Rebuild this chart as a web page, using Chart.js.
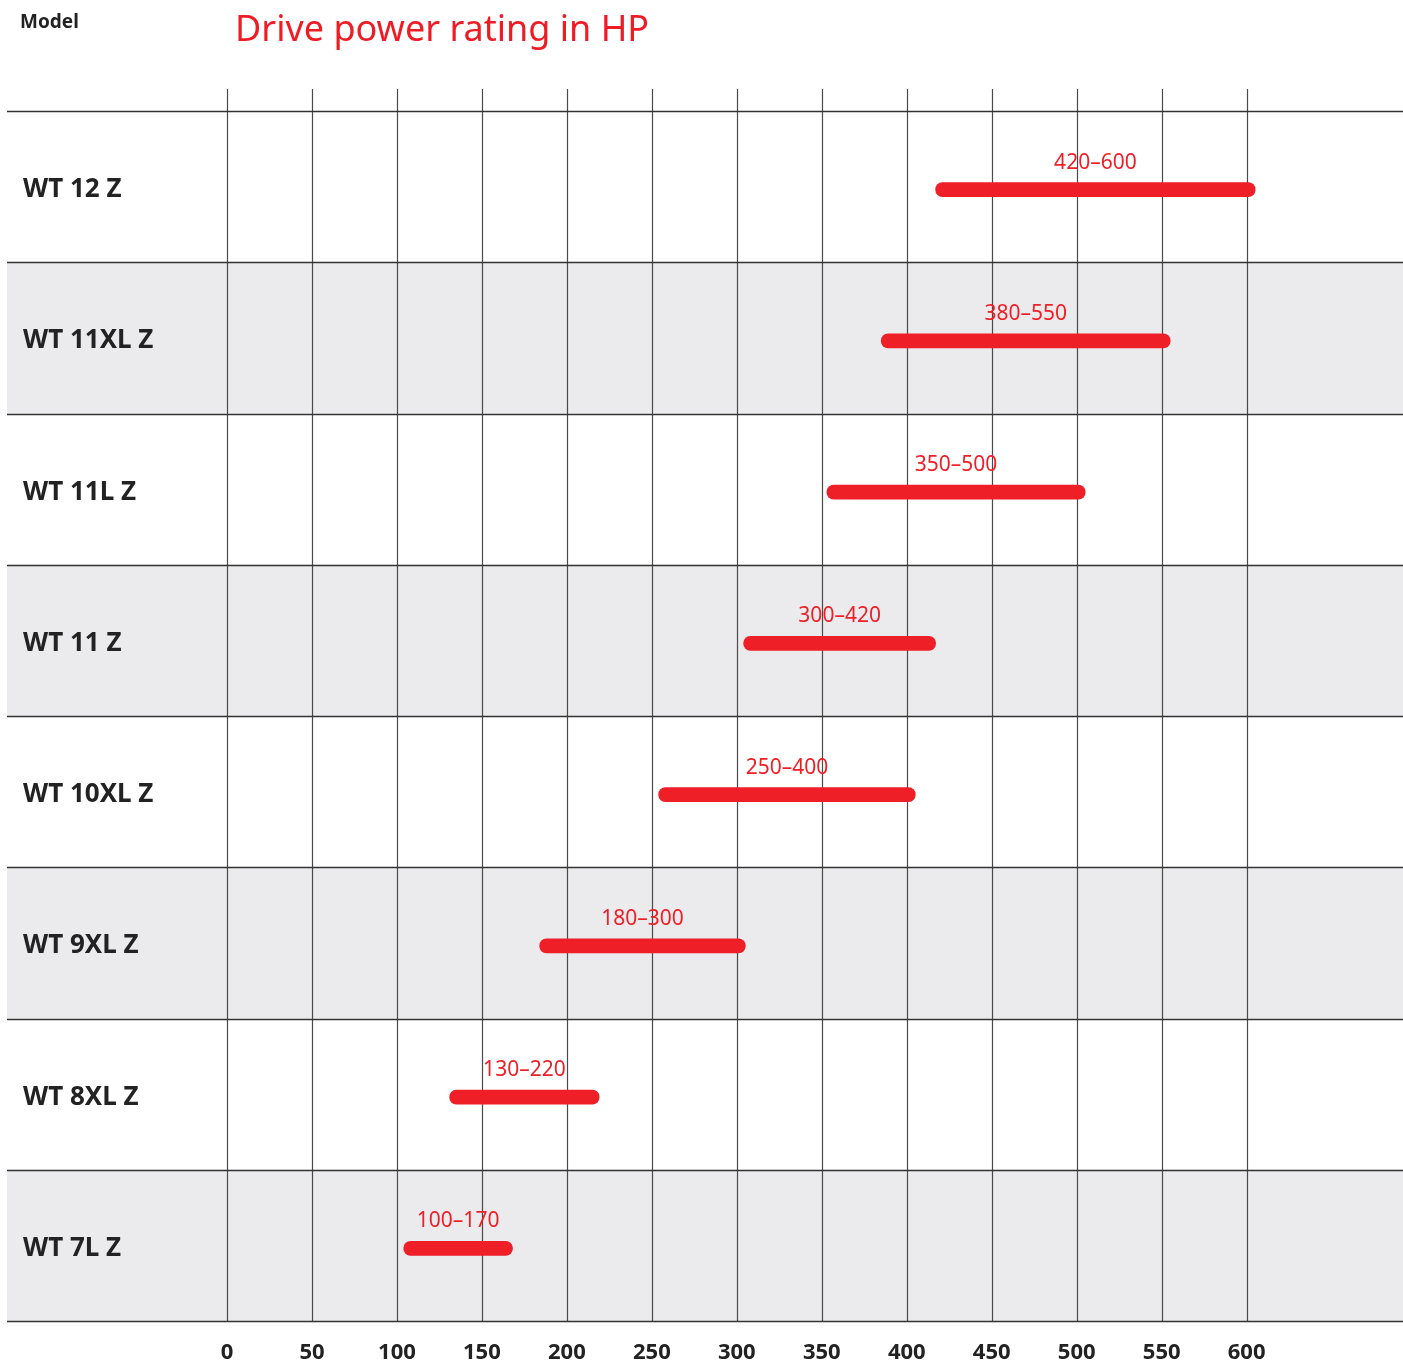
<!DOCTYPE html>
<html>
<head>
<meta charset="utf-8">
<script src="https://cdn.jsdelivr.net/npm/chart.js@4.4.0/dist/chart.umd.min.js"></script>
<style>
body { margin: 0; background: #fff; }
#wrap { position: relative; width: 1403px; height: 1362px; }
#model { position: absolute; left: 20px; top: 8px; font: bold 19px "Noto Sans"; color: #222; }
#title { position: absolute; left: 235px; top: 3px; font: 36px "Noto Sans"; color: #ee1c25; }
</style>
</head>
<body>
<div id="wrap">
  <canvas id="powerChart" width="1403" height="1362"></canvas>
  <div id="model">Model</div>
  <div id="title">Drive power rating in HP</div>
</div>
<script>
// models top to bottom
var models = ['WT 12 Z', 'WT 11XL Z', 'WT 11L Z', 'WT 11 Z', 'WT 10XL Z', 'WT 9XL Z', 'WT 8XL Z', 'WT 7L Z'];
// bar ends as drawn in the picture (HP)
var powerMin = [417, 385, 353, 304, 254, 184, 131, 104];
var powerMax = [605, 555, 505, 417, 405, 305, 219, 168];
// printed labels above each bar
var rangeLabels = ['420–600', '380–550', '350–500', '300–420', '250–400', '180–300', '130–220', '100–170'];
var xTicks = [0, 50, 100, 150, 200, 250, 300, 350, 400, 450, 500, 550, 600];

var red = '#ee1f27';
var rowShift = -3; // bars sit a little below the row middle in the original

var tablePlugin = {
    id: 'table',
    beforeDraw: function(chart) {
        var c = chart.ctx, a = chart.chartArea, x = chart.scales.x;
        var step = (a.bottom - a.top) / models.length;
        var top = a.top + rowShift, bottom = a.bottom + rowShift;
        c.save();
        c.fillStyle = '#fff';
        c.fillRect(0, 0, chart.width, chart.height);
        // shaded rows
        c.fillStyle = '#ebebed';
        for (var i = 0; i < models.length; i++) {
            if (i % 2 == 1) c.fillRect(7, top + i * step, chart.width - 7, step);
        }
        // vertical grid
        c.strokeStyle = '#4a4a4a';
        c.lineWidth = 1.2;
        xTicks.forEach(function(v) {
            var px = Math.round(x.getPixelForValue(v)) + 0.5;
            c.beginPath();
            c.moveTo(px, top - 22);
            c.lineTo(px, bottom);
            c.stroke();
        });
        // row lines
        c.strokeStyle = '#333';
        c.lineWidth = 1.4;
        for (var j = 0; j <= models.length; j++) {
            var py = Math.round(top + j * step) + 0.5;
            c.beginPath();
            c.moveTo(7, py);
            c.lineTo(chart.width, py);
            c.stroke();
        }
        c.restore();
    },
    afterDatasetsDraw: function(chart) {
        var c = chart.ctx;
        var meta = chart.getDatasetMeta(0);
        c.save();
        c.font = '21px "Noto Sans"';
        c.fillStyle = red;
        c.textAlign = 'center';
        c.textBaseline = 'middle';
        meta.data.forEach(function(bar, i) {
            c.fillText(rangeLabels[i], (bar.x + bar.base) / 2, bar.y - 27);
        });
        c.restore();
    }
};

var ctx = document.getElementById('powerChart').getContext('2d');
var powerChart = new Chart(ctx, {
    type: 'bar',
    data: {
        labels: models,
        datasets: [{
            data: models.map(function(m, i) { return [powerMin[i], powerMax[i]]; }),
            backgroundColor: red,
            barThickness: 14,
            borderRadius: 7,
            borderSkipped: false
        }]
    },
    options: {
        indexAxis: 'y',
        responsive: false,
        devicePixelRatio: 1,
        animation: false,
        layout: { padding: { left: 23, top: 114, right: 0, bottom: 0 } },
        plugins: { legend: { display: false }, tooltip: { enabled: false } },
        scales: {
            x: {
                min: 0,
                max: 692,
                position: 'bottom',
                grid: { display: false, drawTicks: false },
                border: { display: false },
                afterBuildTicks: function(s) { s.ticks = xTicks.map(function(v) { return { value: v }; }); },
                afterFit: function(s) { s.height = 38; },
                ticks: {
                    padding: 16,
                    maxRotation: 0,
                    autoSkip: false,
                    color: '#222',
                    font: { family: 'Noto Sans', size: 22, weight: 'bold' }
                }
            },
            y: {
                grid: { display: false, drawTicks: false },
                border: { display: false },
                afterFit: function(s) { s.width = 204; },
                ticks: {
                    crossAlign: 'far',
                    padding: 0,
                    color: '#222',
                    font: { family: 'Noto Sans', size: 26, weight: 'bold' }
                }
            }
        }
    },
    plugins: [tablePlugin]
});
</script>
</body>
</html>
